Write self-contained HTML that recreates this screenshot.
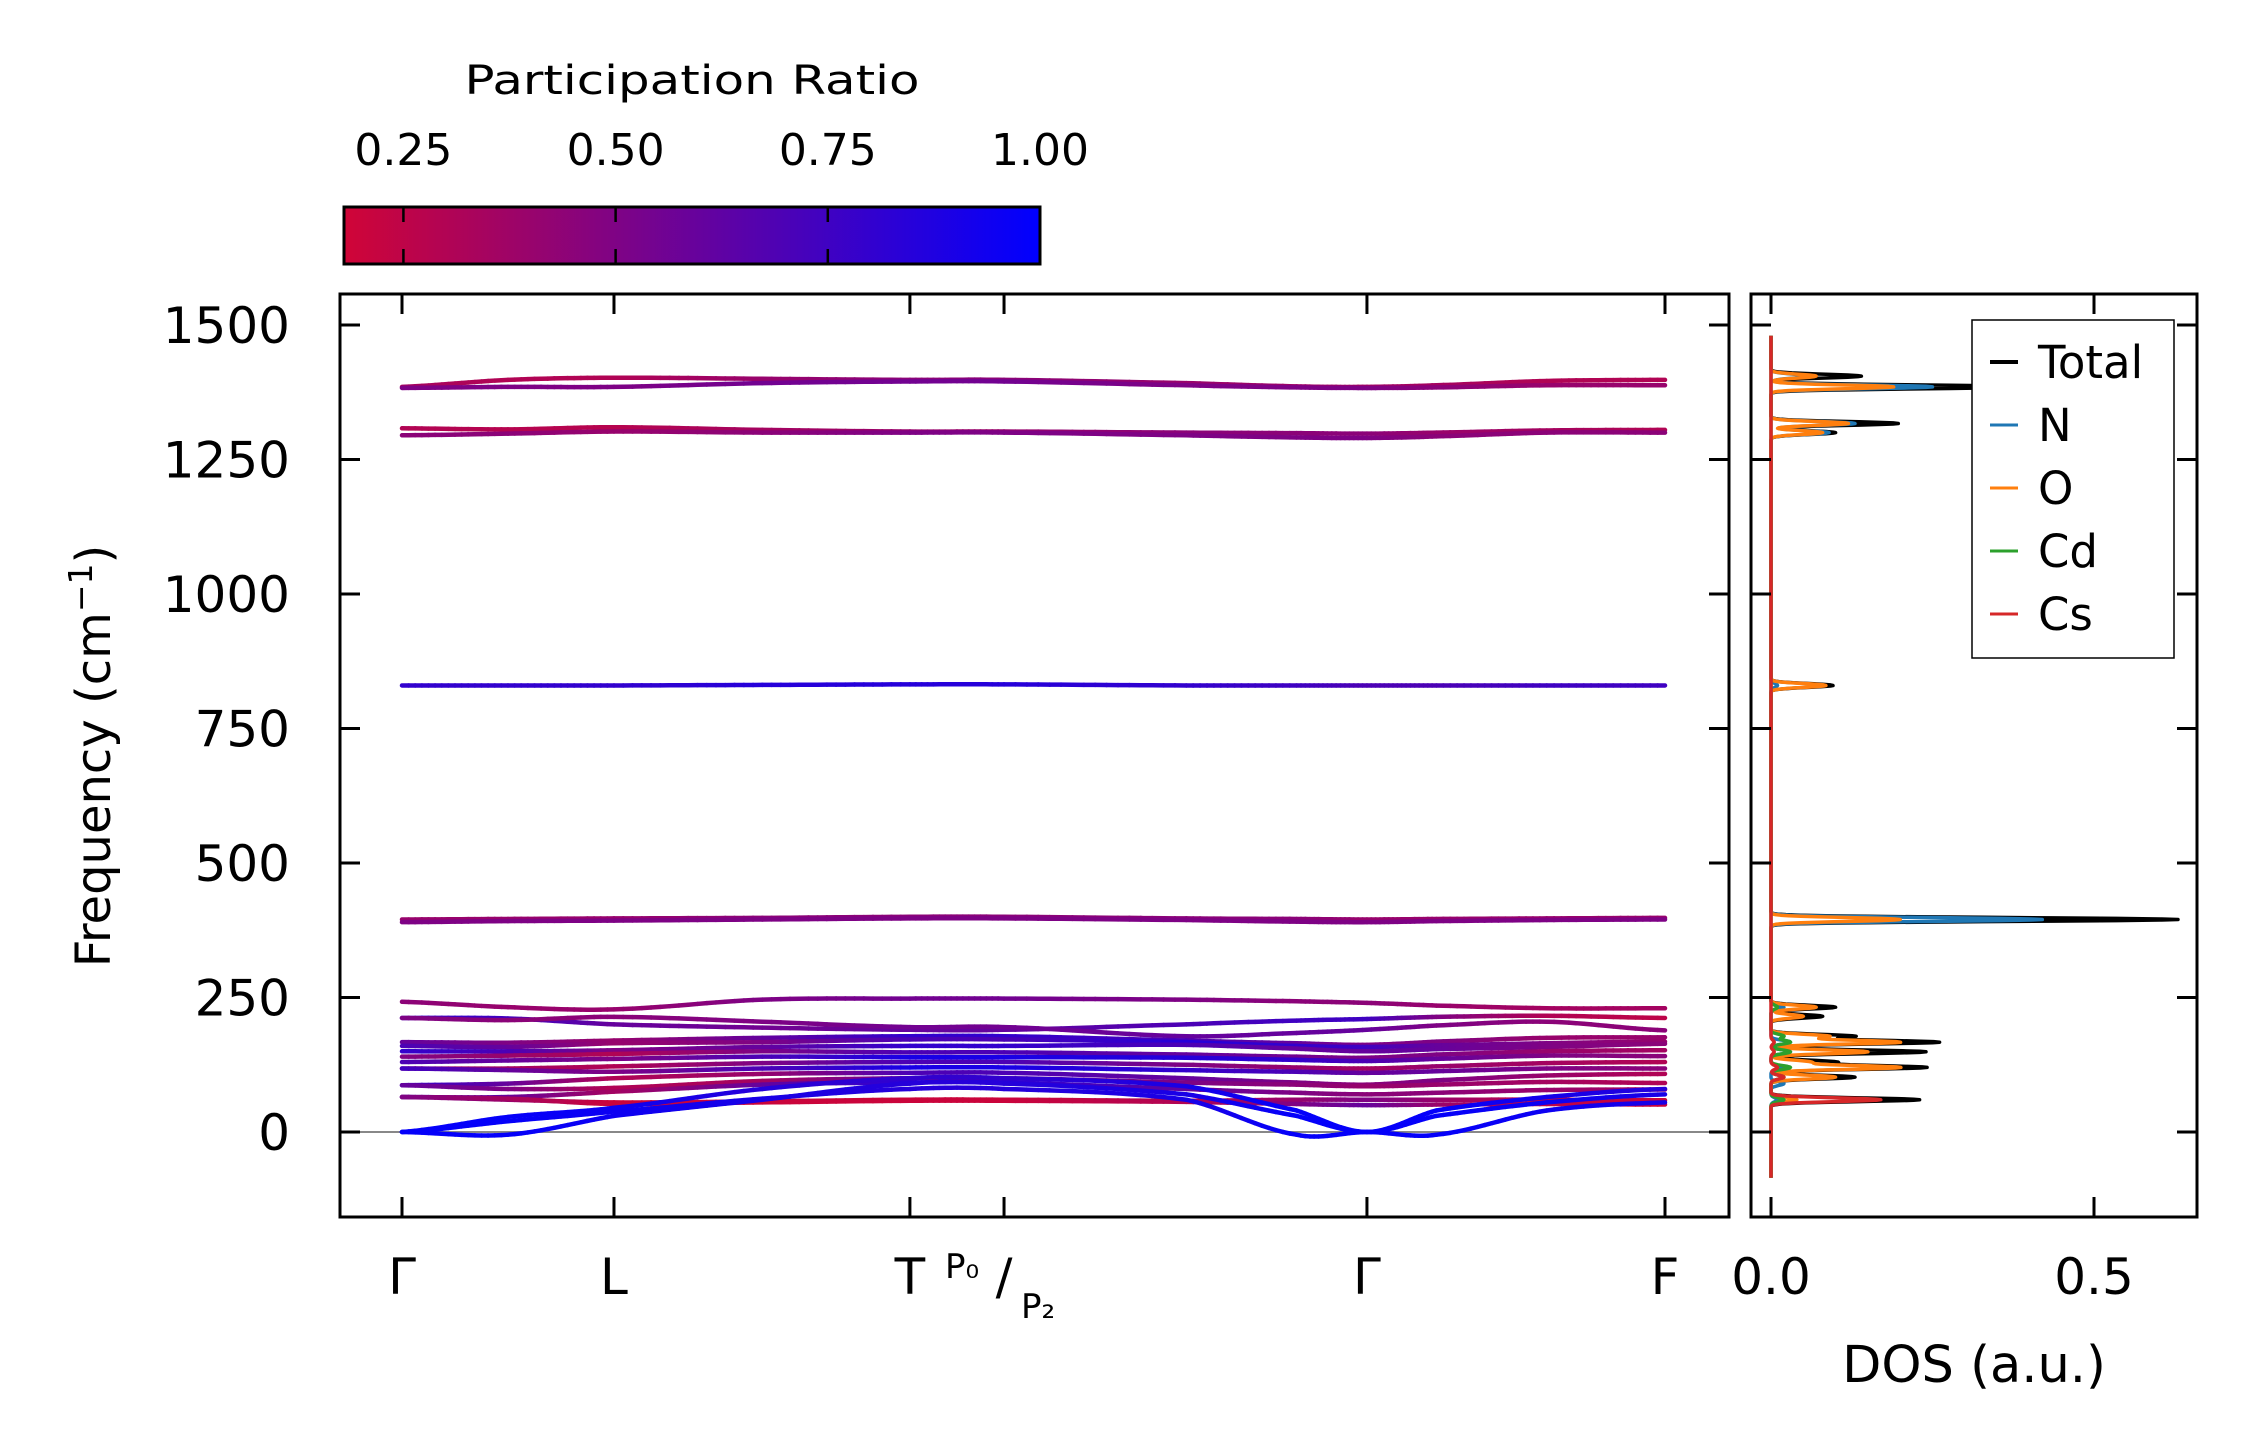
<!DOCTYPE html>
<html><head><meta charset="utf-8"><style>
html,body{margin:0;padding:0;background:#fff;}
svg{display:block;font-family:"DejaVu Sans","Liberation Sans",sans-serif;}
</style></head><body>
<svg id="chart" width="2259" height="1455" viewBox="0 0 2259 1455" xmlns="http://www.w3.org/2000/svg">
<defs>
<linearGradient id="cbgrad" x1="0" x2="1" y1="0" y2="0">
<stop offset="0" stop-color="rgb(208,5,55)"/>
<stop offset="0.39" stop-color="rgb(127,3,133)"/>
<stop offset="1" stop-color="rgb(0,0,255)"/>
</linearGradient>
<clipPath id="bandclip"><rect x="340" y="294" width="1389" height="923"/></clipPath>
<clipPath id="dosclip"><rect x="1751" y="294" width="446" height="923"/></clipPath>
</defs>
<text x="692" y="94" font-size="40" text-anchor="middle" textLength="455" lengthAdjust="spacingAndGlyphs">Participation Ratio</text>
<rect x="344" y="207" width="696" height="57" fill="url(#cbgrad)" stroke="#000" stroke-width="3"/>
<g id="cbticks"></g>
<g id="bands" clip-path="url(#bandclip)"></g>
<g id="bandaxes"></g>
<g id="dos" clip-path="url(#dosclip)"></g>
<g id="dosaxes"></g>
<text transform="translate(110,756) rotate(-90)" font-size="48" text-anchor="middle">Frequency (cm<tspan dy="-18" font-size="33">−1</tspan><tspan dy="18">)</tspan></text>
<text x="1974" y="1382" font-size="51" text-anchor="middle">DOS (a.u.)</text>
<g>
<rect x="1972" y="320" width="202" height="338" fill="#fff" stroke="#000" stroke-width="1.5"/>
</g>
<g id="legend"></g>
</svg>
<script>
// ---- band data ----
const kLabels = ["Γ","L","T","P","Γ","F"];
const kLabelPos = [0, 1, 2.396, 2.84, 4.552, 5.958];
const knots = [0,0.5,1,1.7,2.396,2.84,3.7,4.22,4.552,4.88,5.4,5.958];
const yTicks = [0,250,500,750,1000,1250,1500];
const bandVals = [
 [1385,1398,1402,1400,1398,1398,1392,1386,1385,1388,1396,1398],
 [1383,1385,1385,1392,1395,1395,1388,1384,1383,1384,1388,1388],
 [1308,1306,1310,1305,1302,1302,1300,1299,1298,1300,1304,1305],
 [1295,1298,1302,1300,1300,1300,1295,1291,1290,1293,1300,1300],
 [830,830,830,831,832,832,830,830,830,830,830,830],
 [395,396,397,398,400,400,397,396,395,396,397,398],
 [390,392,393,395,397,397,394,391,390,392,394,395],
 [242,232,228,246,248,248,246,243,240,235,230,230],
 [212,211,200,194,190,190,200,207,210,214,216,212],
 [212,208,214,205,195,195,178,184,190,198,205,189],
 [167,166,170,175,178,178,170,165,162,168,175,176],
 [160,158,165,167,172,172,167,160,158,161,165,168],
 [150,150,152,158,160,160,162,155,150,154,158,164],
 [140,142,145,150,148,148,144,140,138,144,150,152],
 [130,133,136,140,139,139,138,134,132,136,142,141],
 [118,118,122,128,130,130,125,120,118,122,128,130],
 [118,115,112,118,120,120,115,112,110,113,118,118],
 [87,90,100,108,110,110,100,92,88,96,105,108],
 [87,80,82,95,100,100,92,88,85,88,93,91],
 [65,65,75,88,92,92,80,73,70,73,78,79],
 [65,60,55,57,60,60,58,60,60,60,60,59],
 [65,62,52,55,58,58,56,52,50,51,52,51],
 [0,-5,30,60,90,90,70,30,0,30,55,70],
 [0,20,38,62,80,80,60,-5,0,-5,40,55],
 [0,28,45,80,100,100,85,40,0,40,65,80]
];
const bandPR = [
 [.35,.3,.3,.4,.45,.45,.4,.38,.35,.35,.3,.3],
 [.5,.5,.5,.55,.55,.55,.5,.5,.5,.45,.4,.4],
 [.3,.28,.28,.35,.4,.4,.45,.45,.45,.4,.35,.3],
 [.45,.45,.4,.45,.5,.5,.5,.5,.5,.45,.45,.45],
 [.8,.8,.8,.85,.85,.85,.8,.75,.7,.7,.75,.75],
 [.4,.4,.4,.45,.45,.45,.45,.45,.4,.4,.4,.4],
 [.5,.5,.5,.5,.5,.5,.5,.5,.5,.5,.5,.5],
 [.45,.4,.4,.5,.55,.55,.5,.45,.45,.4,.35,.35],
 [.8,.75,.6,.55,.6,.6,.7,.75,.75,.5,.3,.25],
 [.5,.45,.45,.5,.55,.55,.6,.6,.6,.5,.45,.45],
 [.6,.5,.4,.6,.8,.8,.7,.6,.5,.5,.4,.4],
 [.7,.6,.4,.5,.7,.7,.85,.8,.75,.6,.5,.4],
 [.8,.7,.5,.6,.8,.8,.7,.6,.6,.6,.5,.45],
 [.5,.4,.3,.5,.7,.7,.6,.55,.5,.5,.4,.35],
 [.7,.6,.5,.7,.9,.9,.85,.8,.7,.6,.5,.45],
 [.4,.35,.3,.5,.7,.7,.5,.4,.35,.4,.35,.3],
 [.75,.6,.5,.7,.9,.9,.8,.7,.6,.6,.5,.45],
 [.8,.6,.3,.4,.7,.7,.6,.5,.45,.5,.4,.3],
 [.6,.5,.3,.35,.6,.6,.5,.45,.4,.4,.35,.3],
 [.75,.6,.35,.6,.85,.85,.6,.5,.45,.45,.4,.35],
 [.5,.4,.2,.2,.2,.2,.3,.4,.5,.4,.25,.2],
 [.5,.35,.2,.2,.2,.2,.3,.5,.6,.4,.25,.2],
 [.98,.98,.95,.9,.85,.85,.9,.98,.98,.98,.95,.9],
 [.98,.98,.95,.9,.85,.85,.9,.98,.98,.98,.95,.9],
 [.98,.98,.95,.85,.8,.8,.9,.98,.98,.98,.92,.85]
];
const cbTicks = [0.25,0.5,0.75,1.0];
const cbTickLabels = ["0.25","0.50","0.75","1.00"];
// ---- DOS data (peak lists) ----
const dosFreqTotal = [1405,1385,1317,1300,830,395,232,215,178,167,149,130,120,102,60];
const dosTotal =     [0.14,0.40,0.197,0.10,0.096,0.63,0.10,0.08,0.13,0.26,0.24,0.10,0.24,0.13,0.23];
const dosFreqN = [1405,1385,1317,1300,830,395,232,167,149,120,90,60];
const dosN =     [0.06,0.25,0.13,0.09,0.01,0.42,0.02,0.03,0.03,0.02,0.02,0.01];
const dosFreqO = [1405,1385,1317,1300,830,395,232,215,178,167,149,130,120,102,60];
const dosO =     [0.07,0.19,0.12,0.08,0.085,0.20,0.07,0.05,0.09,0.20,0.15,0.06,0.20,0.10,0.04];
const dosFreqCd = [232,178,167,149,120,102,60];
const dosCd =     [0.01,0.02,0.03,0.03,0.03,0.02,0.02];
const dosFreqCs = [167,149,120,102,60];
const dosCs =     [0.005,0.005,0.01,0.02,0.17];
const dosXTicks = [0.0,0.5];
const legendNames = ["Total","N","O","Cd","Cs"];
const legendColors = ["#000000","#1f77b4","#ff7f0e","#2ca02c","#d62728"];

const NS="http://www.w3.org/2000/svg";
function mk(tag,attrs,parent){const e=document.createElementNS(NS,tag);for(const k in attrs)e.setAttribute(k,attrs[k]);parent.appendChild(e);return e;}
const bx0=340,bx1=1729,by0=294,by1=1217;
const kx=k=>402+k*((1665-402)/5.958);
const fy=f=>1132-f*0.538;
const dx=v=>1771+v*646;
const cbx=v=>344+(v-0.18)/(1.0-0.18)*696;
function prColor(p){let t=(p-0.18)/(0.82);t=Math.max(0,Math.min(1,t));
 let r,g,b; if(t<0.39){const u=t/0.39;r=208+(127-208)*u;g=5+(3-5)*u;b=55+(133-55)*u;}
 else{const u=(t-0.39)/0.61;r=127*(1-u);g=3*(1-u);b=133+(255-133)*u;}
 return `rgb(${r|0},${g|0},${b|0})`;}
function cr(p0,p1,p2,p3,t){return 0.5*((2*p1)+(-p0+p2)*t+(2*p0-5*p1+4*p2-p3)*t*t+(-p0+3*p1-3*p2+p3)*t*t*t);}

const cbt=document.getElementById('cbticks');
cbTicks.forEach((v,i)=>{
 const x=cbx(v);
 const t1=mk('line',{x1:x,x2:x,y1:207,y2:222,stroke:'#000','stroke-width':2.5},cbt);
 
 
 mk('line',{x1:x,x2:x,y1:249,y2:264,stroke:'#000','stroke-width':2.5},cbt);
 const tx=mk('text',{x:x,y:165,'font-size':44,'text-anchor':'middle'},cbt);
 tx.textContent=cbTickLabels[i];
 
 
});

const bg=document.getElementById('bands');
mk('line',{x1:bx0,x2:bx1,y1:fy(0),y2:fy(0),stroke:'#888','stroke-width':2},bg);
bandVals.forEach((vals,bi)=>{
 const pr=bandPR[bi];
 const g=mk('g',{},bg);
 
 
 const n=vals.length;
 let prev=null;
 for(let i=0;i<n-1;i++){
  const S=16;
  for(let s=0;s<=S;s++){
   const t=s/S;
   const k=knots[i]+(knots[i+1]-knots[i])*t;
   const f=cr(vals[Math.max(0,i-1)],vals[i],vals[i+1],vals[Math.min(n-1,i+2)],t);
   const p=pr[i]+(pr[i+1]-pr[i])*t;
   const pt=[kx(k),fy(f),p];
   if(prev&&s>0){
    mk('line',{x1:prev[0],y1:prev[1],x2:pt[0],y2:pt[1],stroke:prColor((prev[2]+pt[2])/2),'stroke-width':4.5,'stroke-linecap':'round'},g);
   }
   prev=pt;
  }
 }
});

const ba=document.getElementById('bandaxes');
mk('rect',{x:bx0,y:by0,width:bx1-bx0,height:by1-by0,fill:'none',stroke:'#000','stroke-width':3},ba);
yTicks.forEach(v=>{
 const y=fy(v);
 mk('line',{x1:bx0,x2:bx0+20,y1:y,y2:y,stroke:'#000','stroke-width':3},ba);
 mk('line',{x1:bx1-20,x2:bx1,y1:y,y2:y,stroke:'#000','stroke-width':3},ba);
 const t=mk('text',{x:290,y:y+18,'font-size':50,'text-anchor':'end'},ba);
 t.textContent=String(v);
 
 
});
kLabelPos.forEach((k,i)=>{
 const x=kx(k);
 mk('line',{x1:x,x2:x,y1:by1-20,y2:by1,stroke:'#000','stroke-width':3},ba);
 mk('line',{x1:x,x2:x,y1:by0,y2:by0+20,stroke:'#000','stroke-width':3},ba);
 if(kLabels[i]==="P"){
  const t=mk('text',{x:x,y:1294,'font-size':50,'text-anchor':'middle'},ba);
  t.textContent="/";
  
  
  const a=mk('text',{x:x-42,y:1278,'font-size':34,'text-anchor':'middle'},ba);a.textContent="P₀";
  
  
  const b=mk('text',{x:x+34,y:1318,'font-size':34,'text-anchor':'middle'},ba);b.textContent="P₂";
  
  
 } else {
  const t=mk('text',{x:x,y:1294,'font-size':50,'text-anchor':'middle'},ba);
  t.textContent=kLabels[i];
  
  
 }
});

const dg=document.getElementById('dos');
function gau(freqs,hs,f){let s=0;const g=3.5;for(let i=0;i<freqs.length;i++){const d=(f-freqs[i])/g;s+=hs[i]*Math.exp(-0.5*d*d);}return s;}
const series=[[dosFreqTotal,dosTotal],[dosFreqN,dosN],[dosFreqO,dosO],[dosFreqCd,dosCd],[dosFreqCs,dosCs]];
series.forEach((sr,si)=>{
 let d="";
 for(let f=-85;f<=1480;f+=1){const v=gau(sr[0],sr[1],f);d+=(f===-85?"M":"L")+dx(v).toFixed(1)+","+fy(f).toFixed(1);}
 const p=mk('path',{d:d,fill:'none',stroke:legendColors[si],'stroke-width':3.5,'stroke-linejoin':'round'},dg);
 
 
});
const da=document.getElementById('dosaxes');
mk('rect',{x:1751,y:by0,width:446,height:by1-by0,fill:'none',stroke:'#000','stroke-width':3},da);
yTicks.forEach(v=>{
 const y=fy(v);
 mk('line',{x1:1751,x2:1771,y1:y,y2:y,stroke:'#000','stroke-width':3},da);
 mk('line',{x1:2177,x2:2197,y1:y,y2:y,stroke:'#000','stroke-width':3},da);
});
dosXTicks.forEach(v=>{
 const x=dx(v);
 mk('line',{x1:x,x2:x,y1:by1-20,y2:by1,stroke:'#000','stroke-width':3},da);
 mk('line',{x1:x,x2:x,y1:by0,y2:by0+20,stroke:'#000','stroke-width':3},da);
 const t=mk('text',{x:x,y:1294,'font-size':50,'text-anchor':'middle'},da);
 t.textContent=v.toFixed(1);
 
 
});
const lg=document.getElementById('legend');
legendNames.forEach((nm,i)=>{
 const y=362+i*63;
 mk('line',{x1:1990,x2:2018,y1:y,y2:y,stroke:legendColors[i],'stroke-width':i===0?4:3},lg);
 const t=mk('text',{x:2038,y:y+16,'font-size':45},lg);
 t.textContent=nm;
 
 
});
</script>
</body></html>
